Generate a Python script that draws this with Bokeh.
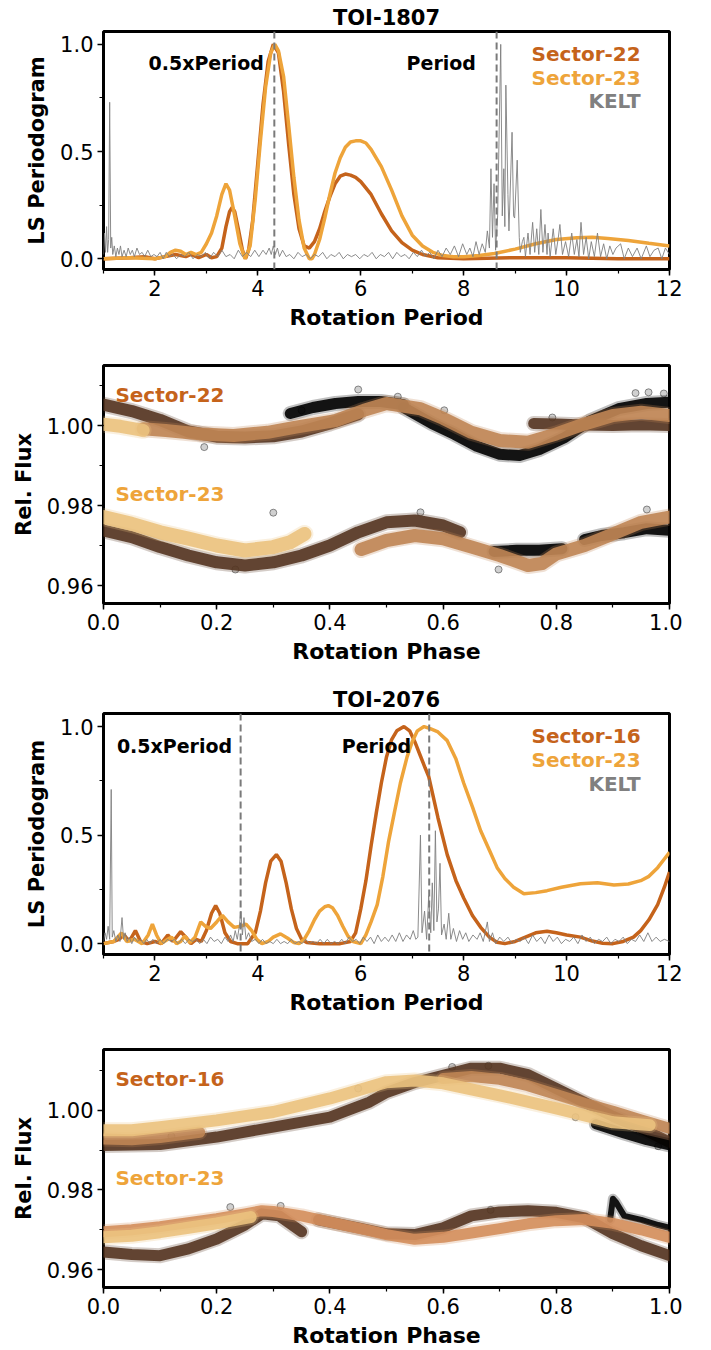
from bokeh.plotting import figure
from bokeh.layouts import column
from bokeh.models import Label, Span, SingleIntervalTicker, NumeralTickFormatter, Range1d
from bokeh.embed import file_html
from bokeh.resources import INLINE

# ---------------- data: TOI-1807 periodograms ----------------
t1_s22_x = [1.0, 1.5, 1.8, 2.0, 2.2, 2.4, 2.6, 2.7, 2.85, 3.0, 3.1, 3.2, 3.3, 3.38, 3.45, 3.5, 3.55, 3.62, 3.7, 3.76,
            3.82, 3.9, 4.0, 4.1, 4.2, 4.3, 4.4, 4.5, 4.6, 4.7, 4.8, 4.9, 5.0, 5.1, 5.2, 5.3, 5.4, 5.5, 5.6, 5.7, 5.8,
            5.9, 6.0, 6.2, 6.4, 6.6, 6.8, 7.0, 7.2, 7.5, 8.0, 9.0, 10.0, 11.0, 12.0]
t1_s22_y = [0.0, 0.005, 0.01, 0.0, 0.01, 0.02, 0.01, 0.02, 0.005, 0.02, 0.005, 0.01, 0.05, 0.15, 0.22, 0.24, 0.22, 0.14, 0.04, 0.0,
            0.04, 0.18, 0.45, 0.72, 0.92, 1.0, 0.96, 0.78, 0.53, 0.3, 0.14, 0.06, 0.05, 0.08, 0.14, 0.22, 0.29, 0.35, 0.385, 0.395, 0.39,
            0.38, 0.36, 0.30, 0.21, 0.13, 0.075, 0.04, 0.02, 0.005, 0.0, 0.005, 0.005, 0.0, 0.0]
t1_s23_x = [1.0, 1.5, 2.0, 2.2, 2.3, 2.4, 2.5, 2.6, 2.7, 2.8, 2.9, 3.0, 3.1, 3.2, 3.3, 3.38, 3.45, 3.55, 3.65, 3.75,
            3.85, 3.95, 4.05, 4.15, 4.25, 4.33, 4.4, 4.5, 4.6, 4.7, 4.8, 4.9, 5.0, 5.05, 5.1, 5.2, 5.3, 5.4, 5.5, 5.6,
            5.7, 5.8, 5.9, 6.0, 6.1, 6.2, 6.4, 6.6, 6.8, 7.0, 7.2, 7.4, 7.6, 7.8, 8.0, 8.3, 8.6, 9.0, 9.4, 9.8,
            10.2, 10.5, 10.8, 11.2, 11.6, 12.0]
t1_s23_y = [0.0, 0.005, 0.0, 0.01, 0.03, 0.04, 0.035, 0.02, 0.03, 0.02, 0.03, 0.07, 0.12, 0.2, 0.3, 0.35, 0.32, 0.2, 0.07, 0.0,
            0.06, 0.28, 0.55, 0.8, 0.96, 1.0, 0.97, 0.85, 0.62, 0.38, 0.18, 0.05, 0.0, 0.0, 0.02, 0.09, 0.19, 0.3, 0.4, 0.47,
            0.52, 0.545, 0.55, 0.55, 0.54, 0.51, 0.43, 0.32, 0.2, 0.11, 0.06, 0.03, 0.015, 0.01, 0.01, 0.015, 0.025, 0.045, 0.07, 0.09,
            0.098, 0.1, 0.095, 0.085, 0.072, 0.06]
t1_kelt_x = [1.00, 1.02, 1.04, 1.06, 1.08, 1.10, 1.12, 1.14, 1.16, 1.18, 1.21, 1.24, 1.27, 1.30, 1.33, 1.36, 1.40, 1.44, 1.48, 1.52,
             1.56, 1.60, 1.65, 1.70, 1.75, 1.80, 1.86, 1.92, 1.98, 2.04, 2.10, 2.16, 2.22, 2.28, 2.35, 2.42, 2.50, 2.58, 2.66, 2.74,
             2.82, 2.90, 2.98, 3.06, 3.14, 3.22, 3.30, 3.38, 3.46, 3.54, 3.62, 3.70, 3.78, 3.86, 3.94, 4.02, 4.10, 4.16, 4.22, 4.26,
             4.30, 4.34, 4.38, 4.42, 4.48, 4.55, 4.62, 4.70, 4.78, 4.86, 4.94, 5.02, 5.10, 5.18, 5.26, 5.34, 5.42, 5.50, 5.58, 5.66,
             5.74, 5.82, 5.90, 5.98, 6.06, 6.14, 6.22, 6.30, 6.38, 6.46, 6.54, 6.62, 6.70, 6.78, 6.86, 6.94, 7.02, 7.10, 7.18, 7.26,
             7.34, 7.42, 7.50, 7.58, 7.66, 7.74, 7.82, 7.90, 7.98, 8.06, 8.12, 8.18, 8.24, 8.30, 8.36, 8.42, 8.46, 8.50, 8.53, 8.56,
             8.59, 8.62, 8.66, 8.72, 8.75, 8.78, 8.80, 8.82, 8.86, 8.88, 8.94, 8.97, 8.99, 9.04, 9.08, 9.10, 9.14, 9.17, 9.20, 9.25,
             9.29, 9.34, 9.38, 9.42, 9.46, 9.50, 9.54, 9.58, 9.62, 9.64, 9.68, 9.74, 9.79, 9.84, 9.87, 9.92, 9.98, 10.04, 10.10, 10.15,
             10.20, 10.24, 10.28, 10.33, 10.38, 10.43, 10.48, 10.54, 10.60, 10.66, 10.72, 10.78, 10.84, 10.90, 10.96, 11.05, 11.12, 11.20, 11.28, 11.37,
             11.45, 11.55, 11.62, 11.70, 11.78, 11.85, 11.92, 12.00]
t1_kelt_y = [0.02, 0.12, 0.03, 0.15, 0.03, 0.09, 0.73, 0.05, 0.10, 0.02, 0.06, 0.01, 0.05, 0.02, 0.06, 0.01, 0.04, 0.01, 0.05, 0.02,
             0.04, 0.01, 0.05, 0.02, 0.03, 0.01, 0.04, 0.01, 0.02, 0.01, 0.03, 0.00, 0.03, 0.01, 0.02, 0.00, 0.02, 0.01, 0.03, 0.00,
             0.02, 0.01, 0.03, 0.00, 0.03, 0.01, 0.04, 0.01, 0.02, 0.00, 0.04, 0.01, 0.03, 0.01, 0.04, 0.01, 0.04, 0.02, 0.05, 0.02,
             0.06, 0.02, 0.05, 0.01, 0.04, 0.01, 0.02, 0.00, 0.03, 0.01, 0.02, 0.00, 0.02, 0.01, 0.03, 0.00, 0.02, 0.01, 0.03, 0.00,
             0.02, 0.01, 0.02, 0.00, 0.02, 0.01, 0.03, 0.00, 0.02, 0.01, 0.03, 0.00, 0.03, 0.01, 0.02, 0.00, 0.03, 0.01, 0.04, 0.01,
             0.03, 0.00, 0.04, 0.01, 0.05, 0.02, 0.06, 0.01, 0.07, 0.02, 0.05, 0.01, 0.08, 0.02, 0.07, 0.03, 0.13, 0.05, 0.42, 0.10,
             0.35, 0.04, 0.20, 1.00, 0.20, 0.42, 0.15, 0.81, 0.30, 0.13, 0.59, 0.20, 0.19, 0.46, 0.10, 0.03, 0.08, 0.10, 0.01, 0.12,
             0.02, 0.17, 0.03, 0.14, 0.02, 0.23, 0.03, 0.16, 0.02, 0.12, 0.01, 0.14, 0.02, 0.10, 0.16, 0.02, 0.08, 0.01, 0.12, 0.02,
             0.09, 0.01, 0.17, 0.02, 0.10, 0.00, 0.08, 0.01, 0.12, 0.01, 0.07, 0.00, 0.06, 0.02, 0.05, 0.07, 0.00, 0.05, 0.01, 0.05,
             0.00, 0.06, 0.01, 0.04, 0.05, 0.00, 0.05, 0.02]
t1_period = 8.64

# ---------------- data: TOI-2076 periodograms ----------------
t2_s16_x = [1.0, 1.2, 1.3, 1.4, 1.5, 1.62, 1.72, 1.85, 2.0, 2.12, 2.25, 2.35, 2.5, 2.6, 2.7, 2.8, 2.9, 3.0, 3.1, 3.18,
            3.26, 3.36, 3.47, 3.6, 3.8, 3.95, 4.05, 4.15, 4.25, 4.36, 4.45, 4.55, 4.65, 4.75, 4.85, 4.95, 5.2, 5.6, 5.8, 5.9,
            6.0, 6.1, 6.2, 6.3, 6.4, 6.5, 6.6, 6.7, 6.84, 6.95, 7.05, 7.15, 7.25, 7.32, 7.5, 7.68, 7.85, 8.0, 8.17, 8.33,
            8.5, 8.65, 8.8, 9.0, 9.2, 9.4, 9.62, 9.8, 10.0, 10.27, 10.5, 10.7, 10.9, 11.1, 11.3, 11.44, 11.6, 11.77, 11.9, 12.0]
t2_s16_y = [0.0, 0.01, 0.02, 0.04, 0.01, 0.06, 0.01, 0.0, 0.01, 0.0, 0.04, 0.01, 0.055, 0.03, 0.0, 0.02, 0.01, 0.06, 0.14, 0.175,
            0.14, 0.05, 0.01, 0.0, 0.0, 0.05, 0.15, 0.28, 0.38, 0.41, 0.38, 0.28, 0.16, 0.07, 0.02, 0.005, 0.0, 0.0, 0.01, 0.05,
            0.16, 0.29, 0.45, 0.6, 0.74, 0.86, 0.94, 0.98, 1.0, 0.98, 0.93, 0.87, 0.81, 0.77, 0.58, 0.41, 0.29, 0.21, 0.13, 0.075,
            0.03, 0.006, 0.0, 0.01, 0.03, 0.05, 0.057, 0.05, 0.04, 0.03, 0.012, 0.002, 0.0, 0.01, 0.03, 0.06, 0.11, 0.18, 0.26, 0.33]
t2_s23_x = [1.0, 1.2, 1.35, 1.45, 1.6, 1.75, 1.87, 1.95, 2.03, 2.12, 2.25, 2.32, 2.42, 2.5, 2.58, 2.68, 2.78, 2.89, 2.98, 3.08,
            3.2, 3.31, 3.42, 3.54, 3.66, 3.77, 3.88, 3.98, 4.08, 4.2, 4.3, 4.44, 4.58, 4.7, 4.8, 4.9, 5.0, 5.1, 5.2, 5.3,
            5.37, 5.45, 5.55, 5.65, 5.75, 5.85, 6.0, 6.1, 6.2, 6.32, 6.43, 6.54, 6.65, 6.77, 6.9, 7.0, 7.1, 7.23, 7.35, 7.5,
            7.68, 7.85, 8.0, 8.17, 8.33, 8.5, 8.65, 8.8, 8.97, 9.17, 9.4, 9.62, 9.9, 10.27, 10.6, 10.92, 11.2, 11.44, 11.6, 11.77,
            11.9, 12.0]
t2_s23_y = [0.0, 0.01, 0.05, 0.01, 0.02, 0.0, 0.04, 0.09, 0.04, 0.0, 0.02, 0.03, 0.0, 0.01, 0.035, 0.005, 0.03, 0.1, 0.08, 0.07,
            0.1, 0.13, 0.1, 0.075, 0.08, 0.09, 0.06, 0.02, 0.0, 0.01, 0.03, 0.045, 0.025, 0.005, 0.0, 0.02, 0.06, 0.11, 0.15, 0.17,
            0.175, 0.165, 0.13, 0.08, 0.035, 0.01, 0.0, 0.04, 0.1, 0.18, 0.31, 0.47, 0.6, 0.74, 0.86, 0.93, 0.98, 1.0, 0.99, 0.975,
            0.935, 0.85, 0.74, 0.63, 0.52, 0.43, 0.35, 0.3, 0.26, 0.23, 0.235, 0.244, 0.26, 0.276, 0.28, 0.27, 0.275, 0.29, 0.31, 0.35,
            0.39, 0.42]
t2_kelt_x = [1.00, 1.03, 1.06, 1.09, 1.12, 1.15, 1.17, 1.20, 1.24, 1.28, 1.32, 1.36, 1.39, 1.42, 1.46, 1.50, 1.55, 1.60, 1.66, 1.72,
             1.78, 1.84, 1.90, 1.96, 2.03, 2.10, 2.17, 2.24, 2.31, 2.38, 2.45, 2.52, 2.59, 2.66, 2.73, 2.80, 2.87, 2.94, 3.01, 3.08,
             3.15, 3.22, 3.29, 3.36, 3.42, 3.47, 3.52, 3.56, 3.60, 3.64, 3.67, 3.70, 3.73, 3.77, 3.82, 3.88, 3.95, 4.02, 4.09, 4.16,
             4.23, 4.30, 4.37, 4.44, 4.51, 4.58, 4.65, 4.72, 4.79, 4.86, 4.93, 5.00, 5.07, 5.14, 5.21, 5.28, 5.35, 5.42, 5.49, 5.56,
             5.63, 5.70, 5.77, 5.84, 5.91, 5.98, 6.05, 6.12, 6.19, 6.26, 6.33, 6.40, 6.47, 6.54, 6.61, 6.68, 6.75, 6.82, 6.89, 6.96,
             7.02, 7.07, 7.11, 7.16, 7.19, 7.24, 7.28, 7.32, 7.36, 7.39, 7.42, 7.45, 7.48, 7.51, 7.54, 7.57, 7.62, 7.66, 7.71, 7.75,
             7.80, 7.86, 7.92, 7.98, 8.04, 8.10, 8.18, 8.26, 8.32, 8.38, 8.46, 8.50, 8.56, 8.62, 8.70, 8.78, 8.86, 8.94, 9.02, 9.10,
             9.18, 9.26, 9.34, 9.42, 9.50, 9.58, 9.66, 9.74, 9.82, 9.90, 9.98, 10.06, 10.14, 10.22, 10.30, 10.38, 10.46, 10.54, 10.62, 10.70,
             10.78, 10.86, 10.94, 11.02, 11.10, 11.18, 11.26, 11.34, 11.42, 11.50, 11.58, 11.66, 11.74, 11.82, 11.90, 12.00]
t2_kelt_y = [0.01, 0.05, 0.02, 0.08, 0.02, 0.71, 0.03, 0.06, 0.01, 0.04, 0.01, 0.12, 0.02, 0.05, 0.01, 0.03, 0.00, 0.03, 0.01, 0.02,
             0.00, 0.02, 0.00, 0.02, 0.00, 0.02, 0.00, 0.02, 0.01, 0.02, 0.00, 0.02, 0.00, 0.02, 0.01, 0.02, 0.00, 0.02, 0.00, 0.03,
             0.01, 0.02, 0.00, 0.03, 0.01, 0.04, 0.01, 0.06, 0.02, 0.08, 0.15, 0.04, 0.12, 0.02, 0.05, 0.01, 0.02, 0.00, 0.02, 0.00,
             0.01, 0.00, 0.02, 0.00, 0.01, 0.00, 0.02, 0.00, 0.01, 0.00, 0.02, 0.00, 0.01, 0.00, 0.02, 0.00, 0.02, 0.00, 0.01, 0.00,
             0.02, 0.00, 0.03, 0.01, 0.02, 0.00, 0.03, 0.01, 0.03, 0.00, 0.04, 0.01, 0.03, 0.01, 0.04, 0.01, 0.05, 0.01, 0.04, 0.02,
             0.06, 0.02, 0.03, 0.50, 0.05, 0.15, 0.02, 0.22, 0.05, 0.28, 0.06, 0.52, 0.10, 0.16, 0.37, 0.04, 0.09, 0.02, 0.14, 0.02,
             0.07, 0.01, 0.06, 0.02, 0.05, 0.01, 0.04, 0.02, 0.05, 0.01, 0.10, 0.01, 0.05, 0.00, 0.03, 0.01, 0.03, 0.00, 0.02, 0.01,
             0.03, 0.00, 0.04, 0.01, 0.03, 0.00, 0.04, 0.01, 0.03, 0.00, 0.02, 0.01, 0.03, 0.00, 0.04, 0.01, 0.03, 0.00, 0.02, 0.01,
             0.03, 0.00, 0.02, 0.01, 0.03, 0.00, 0.02, 0.01, 0.04, 0.01, 0.05, 0.01, 0.03, 0.01, 0.02, 0.01]
t2_period = 7.33

# ---------------- data: TOI-1807 phase-folded light curves ----------------
p1_ph_brown_a = [0.0, 0.05, 0.1, 0.15, 0.2, 0.25, 0.3, 0.35, 0.4, 0.45]
p1_fl_brown_a = [1.0052, 1.0036, 1.0014, 0.9985, 0.9972, 0.9970, 0.9973, 0.9985, 1.0005, 1.0028]
p1_ph_brown_b = [0.76, 0.8, 0.85, 0.9, 0.95, 1.0]
p1_fl_brown_b = [1.0005, 1.0004, 1.0001, 1.0000, 1.0002, 1.0000]
p1_ph_black_a = [0.33, 0.37, 0.41, 0.45, 0.49, 0.53]
p1_fl_black_a = [1.0030, 1.0045, 1.0055, 1.0060, 1.0060, 1.0052]
p1_ph_black_b = [0.53, 0.58, 0.62, 0.66, 0.70, 0.735, 0.77, 0.815, 0.86, 0.91, 0.96, 1.0]
p1_fl_black_b = [1.0045, 1.0005, 0.9978, 0.9948, 0.9928, 0.9925, 0.9940, 0.9970, 1.0012, 1.0042, 1.0055, 1.0058]
p1_ph_tan_a = [0.07, 0.11, 0.17, 0.23, 0.29, 0.34, 0.41, 0.46, 0.5, 0.56, 0.6, 0.65, 0.7, 0.75, 0.8, 0.85, 0.9, 0.95, 1.0]
p1_fl_tan_a = [0.9992, 0.99875, 0.9979, 0.9975, 0.9983, 0.9996, 1.0012, 1.0038, 1.0055, 1.0042, 1.0018, 0.9983, 0.99625, 0.9958, 0.9979, 1.0004, 1.0025, 1.0033, 1.0025]
p1_ph_light_a = [0.0, 0.03, 0.07]
p1_fl_light_a = [1.0003, 0.9998, 0.9988]
p1_ph_light_b = [0.0, 0.05, 0.1, 0.15, 0.2, 0.25, 0.3, 0.33, 0.355]
p1_fl_light_b = [0.9771, 0.9754, 0.9733, 0.9717, 0.9700, 0.96875, 0.9696, 0.9708, 0.9729]
p1_ph_brown_c = [0.0, 0.05, 0.1, 0.15, 0.2, 0.25, 0.3, 0.35, 0.4, 0.45, 0.5, 0.55, 0.6, 0.63]
p1_fl_brown_c = [0.97375, 0.9721, 0.9696, 0.9675, 0.9658, 0.9650, 0.9658, 0.9675, 0.9700, 0.9733, 0.9758, 0.97625, 0.9750, 0.9733]
p1_ph_black_c = [0.69, 0.73, 0.77, 0.81]
p1_fl_black_c = [0.9685, 0.9688, 0.9688, 0.9692]
p1_ph_black_d = [0.85, 0.88, 0.92, 0.96, 1.0]
p1_fl_black_d = [0.9715, 0.9725, 0.9732, 0.9742, 0.9738]
p1_ph_tan_b = [0.455, 0.5, 0.55, 0.6, 0.65, 0.7, 0.75, 0.775, 0.8, 0.85, 0.9, 0.95, 1.0]
p1_fl_tan_b = [0.9690, 0.97125, 0.9725, 0.9717, 0.9696, 0.9675, 0.9650, 0.9655, 0.9679, 0.9700, 0.9729, 0.9758, 0.9771]
p1_out_ph = [0.178, 0.45, 0.35, 0.602, 0.963, 0.99, 0.94, 0.793, 0.698, 0.56, 0.96, 0.233, 0.30, 0.52]
p1_out_fl = [0.9946, 1.009, 1.0038, 1.0038, 1.0083, 1.008, 1.0081, 1.002, 0.964, 0.9783, 0.979, 0.964, 0.9782, 1.0072]

# ---------------- data: TOI-2076 phase-folded light curves ----------------
p2_ph_brown_a = [0.0, 0.1, 0.2, 0.3, 0.4, 0.47, 0.5, 0.55, 0.6, 0.65, 0.7, 0.75, 0.8, 0.85, 0.9, 0.95, 1.0]
p2_fl_brown_a = [0.9912, 0.9914, 0.9933, 0.9958, 0.9983, 1.0021, 1.0045, 1.0070, 1.0088, 1.0106, 1.0106, 1.0090, 1.0055, 1.0020, 0.9985, 0.9955, 0.9920]
p2_ph_tan_a = [0.0, 0.05, 0.1, 0.17]
p2_fl_tan_a = [0.9928, 0.9926, 0.9932, 0.9945]
p2_ph_tan_b = [0.6, 0.65, 0.7, 0.75, 0.8, 0.85, 0.9, 0.95, 1.0]
p2_fl_tan_b = [1.0080, 1.0085, 1.0078, 1.0062, 1.0040, 1.0018, 0.9998, 0.9976, 0.9955]
p2_ph_black_a = [0.87, 0.92, 0.96, 1.0]
p2_fl_black_a = [0.9965, 0.9942, 0.9925, 0.9912]
p2_ph_light_a = [0.0, 0.05, 0.1, 0.2, 0.3, 0.4, 0.47, 0.5, 0.55, 0.6, 0.7, 0.8, 0.9, 0.965]
p2_fl_light_a = [0.9950, 0.9950, 0.9958, 0.9975, 0.9996, 1.0030, 1.0059, 1.0071, 1.0075, 1.0068, 1.0038, 1.0005, 0.9970, 0.9963]
p2_ph_brown_b = [0.0, 0.05, 0.1, 0.15, 0.2, 0.25, 0.28, 0.31, 0.35]
p2_fl_brown_b = [0.9644, 0.9638, 0.9635, 0.9652, 0.9677, 0.9712, 0.9740, 0.9735, 0.9695]
p2_ph_brown_c = [0.38, 0.45, 0.5, 0.55, 0.6, 0.65, 0.7, 0.75, 0.8, 0.85, 0.9, 0.95, 1.0]
p2_fl_brown_c = [0.9725, 0.9705, 0.9690, 0.9688, 0.9705, 0.9735, 0.9745, 0.9748, 0.9744, 0.9730, 0.9690, 0.9660, 0.9635]
p2_ph_black_b = [0.895, 0.90, 0.905, 0.92, 0.95, 0.98, 1.0]
p2_fl_black_b = [0.9725, 0.9778, 0.9770, 0.9735, 0.9725, 0.9712, 0.9705]
p2_ph_orange = [0.0, 0.05, 0.1, 0.15, 0.2, 0.25, 0.28, 0.3, 0.35, 0.4, 0.47, 0.5, 0.55, 0.6, 0.65, 0.7, 0.75, 0.8, 0.85, 0.9, 0.95, 1.0]
p2_fl_orange = [0.9695, 0.9700, 0.9708, 0.9718, 0.9728, 0.9740, 0.9748, 0.9746, 0.9735, 0.9719, 0.9698, 0.9688, 0.9676, 0.9681, 0.9692, 0.9703, 0.9715, 0.9723, 0.9726, 0.9716, 0.9700, 0.9681]
p2_ph_light_b = [0.0, 0.05, 0.1, 0.15, 0.2, 0.26]
p2_fl_light_b = [0.9681, 0.9685, 0.9694, 0.9705, 0.9716, 0.9732]
p2_out_ph = [0.224, 0.313, 0.616, 0.68, 0.684, 0.834, 0.98, 0.45, 0.12]
p2_out_fl = [0.9757, 0.976, 1.0109, 1.0112, 0.975, 0.9983, 0.991, 1.0055, 0.9935]

# ---------------- styling ----------------
FONT = "DejaVu Sans"
C_DARK = "#c5631b"
C_LIGHT = "#eea43a"
C_KELT = "#808080"
C_BLACK = "#000000"
C_BROWN = "#553521"
C_TAN = "#bf8554"
C_LTAN = "#ebc27e"
C_ORTAN = "#d48e5c"


def base_fig(height, top, bottom, xr, yr, xint, yint, yfmt, xlabel, ylabel, title=None):
    p = figure(width=682, height=height, x_range=Range1d(*xr), y_range=Range1d(*yr),
               output_backend="svg", toolbar_location=None,
               min_border_left=103, min_border_right=13, min_border_top=top, min_border_bottom=bottom)
    p.grid.visible = False
    p.background_fill_color = "white"
    p.border_fill_color = "white"
    p.outline_line_color = "black"
    p.outline_line_width = 3
    p.xaxis.ticker = SingleIntervalTicker(interval=xint, num_minor_ticks=2)
    p.yaxis.ticker = SingleIntervalTicker(interval=yint, num_minor_ticks=2)
    p.xaxis.formatter = NumeralTickFormatter(format="0" if xint >= 1 else "0.0")
    p.yaxis.formatter = NumeralTickFormatter(format=yfmt)
    for ax in (p.xaxis[0], p.yaxis[0]):
        ax.axis_line_color = None
        ax.major_tick_out = 6
        ax.major_tick_in = 0
        ax.minor_tick_out = 4
        ax.minor_tick_in = 0
        ax.major_tick_line_width = 1.5
        ax.minor_tick_line_width = 1.2
        ax.major_label_text_font = FONT
        ax.major_label_text_font_size = "21px"
        ax.major_label_text_color = "black"
        ax.axis_label_text_font = FONT
        ax.axis_label_text_font_style = "bold"
        ax.axis_label_text_color = "black"
    p.xaxis.axis_label_text_font_size = "22px"
    p.yaxis.axis_label_text_font_size = "21px"
    p.xaxis.axis_label = xlabel
    p.yaxis.axis_label = ylabel
    p.xaxis.major_label_standoff = 4
    p.xaxis.axis_label_standoff = 6
    p.yaxis.major_label_standoff = 4
    p.yaxis.axis_label_standoff = 8
    if title:
        p.title.text = title
        p.title.align = "center"
        p.title.text_color = "black"
        p.title.text_font = FONT
        p.title.text_font_style = "bold"
        p.title.text_font_size = "21px"
        p.title.standoff = 3
    return p


def add_text(p, x, y, txt, color="black", align="left", size="19px"):
    p.add_layout(Label(x=x, y=y, text=txt, text_color=color, text_align=align, text_baseline="middle",
                       text_font=FONT, text_font_style="bold", text_font_size=size))


def periodogram(height, top, bottom, title, s_a_x, s_a_y, s_b_x, s_b_y, k_x, k_y, period,
                half_text_x, per_text_x, names, legend_ys):
    p = base_fig(height, top, bottom, (1.0, 12.0), (-0.05, 1.06), 2, 0.5, "0.0",
                 "Rotation Period", "LS Periodogram", title)
    p.line(s_a_x, s_a_y, line_color=C_DARK, line_width=3.5)
    p.line(s_b_x, s_b_y, line_color=C_LIGHT, line_width=3.5)
    p.line(k_x, k_y, line_color=C_KELT, line_width=1.0, line_alpha=0.9)
    for loc in (period / 2.0, period):
        p.add_layout(Span(location=loc, dimension="height", line_color="#7a7a7a", line_width=2,
                          line_dash="7 4"))
    add_text(p, half_text_x, 0.912, "0.5xPeriod")
    add_text(p, per_text_x, 0.912, "Period")
    for nm, col, yy in zip(names, (C_DARK, C_LIGHT, C_KELT), legend_ys):
        add_text(p, 11.44, yy, nm, color=col, align="right", size="20px")
    return p


def band(p, ph, fl, color, width=13, alpha=0.9):
    # soft scattered halo plus dense core of the folded photometry
    p.line(ph, fl, line_color=color, line_width=width + 4, line_alpha=0.25, line_cap="round", line_join="round")
    p.line(ph, fl, line_color=color, line_width=width, line_alpha=alpha, line_cap="round", line_join="round")


# ---- panel 1 ----
p1 = periodogram(340, 31, 71, "TOI-1807", t1_s22_x, t1_s22_y, t1_s23_x, t1_s23_y, t1_kelt_x, t1_kelt_y,
                 t1_period, 1.875, 6.89, ("Sector-22", "Sector-23", "KELT"), (0.954, 0.843, 0.737))

# ---- panel 2 ----
p2 = base_fig(340, 25, 77, (0.0, 1.0), (0.9555, 1.015), 0.2, 0.02, "0.00", "Rotation Phase", "Rel. Flux")
p2.scatter(p1_out_ph, p1_out_fl, size=7, fill_color="#777777", fill_alpha=0.35, line_color="#444444", line_alpha=0.6)
band(p2, p1_ph_brown_a, p1_fl_brown_a, C_BROWN, width=12)
band(p2, p1_ph_black_a, p1_fl_black_a, C_BLACK, width=11)
band(p2, p1_ph_black_b, p1_fl_black_b, C_BLACK, width=11)
band(p2, p1_ph_brown_b, p1_fl_brown_b, C_BROWN, width=11)
band(p2, p1_ph_tan_a, p1_fl_tan_a, C_TAN, width=13)
band(p2, p1_ph_light_a, p1_fl_light_a, C_LTAN, width=13)
band(p2, p1_ph_brown_c, p1_fl_brown_c, C_BROWN, width=12)
band(p2, p1_ph_black_c, p1_fl_black_c, C_BLACK, width=11)
band(p2, p1_ph_black_d, p1_fl_black_d, C_BLACK, width=11)
band(p2, p1_ph_light_b, p1_fl_light_b, C_LTAN, width=14)
band(p2, p1_ph_tan_b, p1_fl_tan_b, C_TAN, width=13)
add_text(p2, 0.021, 1.00775, "Sector-22", color=C_DARK, size="20px")
add_text(p2, 0.021, 0.98285, "Sector-23", color=C_LIGHT, size="20px")

# ---- panel 3 ----
p3 = periodogram(350, 33, 76, "TOI-2076", t2_s16_x, t2_s16_y, t2_s23_x, t2_s23_y, t2_kelt_x, t2_kelt_y,
                 t2_period, 1.26, 5.63, ("Sector-16", "Sector-23", "KELT"), (0.958, 0.848, 0.737))

# ---- panel 4 ----
p4 = base_fig(320, 19, 63, (0.0, 1.0), (0.9555, 1.0153), 0.2, 0.02, "0.00", "Rotation Phase", "Rel. Flux")
p4.scatter(p2_out_ph, p2_out_fl, size=7, fill_color="#777777", fill_alpha=0.35, line_color="#444444", line_alpha=0.6)
band(p4, p2_ph_brown_a, p2_fl_brown_a, C_BROWN, width=11)
band(p4, p2_ph_black_a, p2_fl_black_a, C_BLACK, width=10)
band(p4, p2_ph_tan_a, p2_fl_tan_a, C_TAN, width=11)
band(p4, p2_ph_tan_b, p2_fl_tan_b, C_TAN, width=11)
band(p4, p2_ph_light_a, p2_fl_light_a, C_LTAN, width=12)
band(p4, p2_ph_brown_b, p2_fl_brown_b, C_BROWN, width=11)
band(p4, p2_ph_brown_c, p2_fl_brown_c, C_BROWN, width=11)
band(p4, p2_ph_black_b, p2_fl_black_b, C_BLACK, width=6)
band(p4, p2_ph_orange, p2_fl_orange, C_ORTAN, width=11)
band(p4, p2_ph_light_b, p2_fl_light_b, C_LTAN, width=12)
add_text(p4, 0.021, 1.008, "Sector-16", color=C_DARK, size="20px")
add_text(p4, 0.021, 0.98297, "Sector-23", color=C_LIGHT, size="20px")

layout = column(p1, p2, p3, p4, spacing=0)
open("out.html", "w").write(file_html(layout, INLINE))
